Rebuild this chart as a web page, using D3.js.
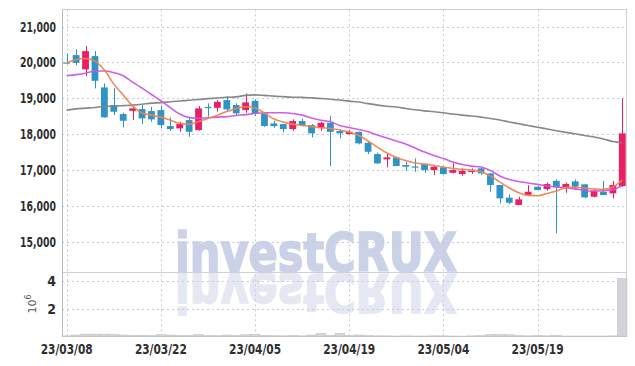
<!DOCTYPE html>
<html>
<head>
<meta charset="utf-8">
<script src="https://cdn.jsdelivr.net/npm/d3@7"></script>
<style>
  body { margin: 0; background: #fff; }
  svg { display: block; }
  .tick-label { font-family: 'DejaVu Sans Condensed', sans-serif; font-weight: bold; font-size: 14px; fill: #2f2f2f; }
</style>
</head>
<body>
<div id="wrapper"></div>
<script>
// trading days
const dates = ['2023-03-08','2023-03-09','2023-03-10','2023-03-13','2023-03-14','2023-03-15','2023-03-16','2023-03-17','2023-03-20','2023-03-21',
  '2023-03-22','2023-03-23','2023-03-24','2023-03-27','2023-03-28','2023-03-29','2023-03-30','2023-03-31','2023-04-03','2023-04-04',
  '2023-04-05','2023-04-06','2023-04-07','2023-04-10','2023-04-11','2023-04-12','2023-04-13','2023-04-14','2023-04-17','2023-04-18',
  '2023-04-19','2023-04-20','2023-04-21','2023-04-24','2023-04-25','2023-04-26','2023-04-27','2023-04-28','2023-05-02','2023-05-03',
  '2023-05-04','2023-05-08','2023-05-09','2023-05-10','2023-05-11','2023-05-12','2023-05-15','2023-05-16','2023-05-17','2023-05-18',
  '2023-05-19','2023-05-22','2023-05-23','2023-05-24','2023-05-25','2023-05-26','2023-05-30','2023-05-31','2023-06-01','2023-06-02']

const open = [20000,20203,19805,20175,19303,18810,18560,18650,18699,18643,18671,18225,18161,18392,18114,18760,18735,18950,18810,18671,
  18930,18579,18300,18281,18142,18365,18253,18178,18317,18086,18003,18066,17760,17445,17297,17353,17139,17100,17167,17000,
  17075,16924,16888,16950,17047,16907,16582,16229,16024,16303,16535,16470,16700,16507,16684,16600,16256,16395,16350,16554]
const high = [20250,20360,20454,20315,19415,19276,18596,18782,18810,18763,18782,18468,18345,18440,18782,18858,18950,19061,18858,19136,
  18970,18596,18373,18281,18412,18440,18281,18345,18504,18133,18114,18066,17780,17482,17464,17370,17231,17325,17180,17139,
  17090,17186,17047,17047,17075,16907,16582,16322,16256,16582,16554,16656,16740,16647,16740,16610,16480,16693,16700,19000]
const low = [19950,19920,19618,19276,18460,18532,18190,18392,18281,18345,18161,18095,18066,17927,18095,18485,18624,18624,18532,18596,
  18504,18206,18178,18050,18095,18225,17910,18095,17111,17883,17994,17715,17445,17167,17074,17111,16980,16952,16924,16860,
  16880,16907,16840,16888,16860,16395,16072,16052,16024,16303,16442,16423,15236,16367,16442,16210,16239,16303,16210,16535]
const close = [19980,19989,20315,19487,18468,18624,18373,18718,18440,18412,18253,18142,18281,18066,18718,18745,18902,18690,18579,18886,
  18579,18225,18225,18142,18365,18253,18022,18317,18066,18022,18066,17743,17509,17186,17353,17111,17092,17090,17000,17092,
  16888,17000,16980,16980,16907,16582,16211,16089,16183,16395,16442,16610,16517,16610,16535,16239,16423,16303,16582,18022]
// volume in millions
const volume = [0.06,0.12,0.18,0.18,0.18,0.15,0.12,0.10,0.10,0.08,0.14,0.12,0.08,0.08,0.14,0.08,0.07,0.12,0.08,0.14,
  0.16,0.10,0.07,0.06,0.08,0.06,0.12,0.22,0.10,0.22,0.08,0.12,0.08,0.06,0.06,0.05,0.06,0.05,0.05,0.06,
  0.06,0.05,0.04,0.06,0.08,0.15,0.16,0.14,0.08,0.06,0.08,0.06,0.10,0.05,0.05,0.05,0.05,0.05,0.06,4.15]

const ma5 = [19980,20080,20110,20035,19785,19395,19090,18780,18590,18530,18475,18390,18300,18280,18350,18440,18530,18630,18710,18765,
  18730,18590,18420,18335,18280,18245,18210,18180,18160,18115,18060,17960,17810,17640,17475,17350,17265,17195,17165,17125,
  17085,17045,17020,17000,16950,16830,16665,16500,16370,16295,16285,16345,16415,16510,16520,16500,16470,16460,16525,16720]
const ma20 = [19630,19660,19700,19760,19760,19715,19630,19450,19285,19105,18930,18740,18560,18460,18440,18455,18475,18490,18520,18545,
  18575,18595,18595,18595,18575,18530,18450,18390,18350,18240,18185,18130,18070,17975,17890,17810,17725,17615,17500,17405,
  17320,17225,17155,17110,17085,16985,16835,16735,16680,16640,16600,16555,16530,16510,16475,16430,16415,16425,16455,16570]
const ma60 = [18670,18705,18725,18745,18770,18780,18795,18810,18835,18865,18880,18905,18925,18945,18965,18990,19010,19025,19040,19080,
  19095,19080,19060,19045,19030,19025,19010,18995,18975,18950,18920,18895,18850,18810,18780,18755,18715,18680,18650,18625,
  18595,18560,18530,18505,18475,18435,18395,18340,18290,18240,18195,18145,18095,18050,18010,17965,17920,17865,17795,17760]

const priceTicks = [15000,16000,17000,18000,19000,20000,21000]
const volTicks = [2,4]
const dateTicks = ['2023-03-08','2023-03-22','2023-04-05','2023-04-19','2023-05-04','2023-05-19']

const width = 635
const height = 366
const left = 62, right = 627
const priceTop = 9.3, priceBottom = 272.3
const volTop = 272.3, volBottom = 336.7

const upColor = '#e91e63'
const downColor = '#2e93c5'
const gridColor = '#c5cadc'
const borderColor = '#cfcfd6'

const svg = d3.select('#wrapper').append('svg').attr('width', width).attr('height', height)

const xScale = d3.scaleBand().domain(dates).range([left, right])
const bw = xScale.bandwidth()
const cx = (d) => xScale(d) + bw / 2

const yScale = d3.scaleLinear().domain([14150, 21480]).range([priceBottom, priceTop])
const vScale = d3.scaleLinear().domain([0, 4.6]).range([volBottom, volTop])

// watermark with reflection
const wm = svg.append('g').attr('class', 'watermark')
const addMark = (color, flip) => {
  const t = wm.append('text')
    .attr('x', 316).attr('y', 271)
    .attr('text-anchor', 'middle')
    .attr('textLength', 282).attr('lengthAdjust', 'spacingAndGlyphs')
    .style('font-family', 'DejaVu Sans Condensed, sans-serif')
    .style('font-weight', 'bold').style('font-size', '53px')
    .style('fill', color).style('stroke', color).style('stroke-width', 1.6)
    .text('investCRUX')
  if (flip) t.attr('transform', `translate(0, ${2 * 272.5}) scale(1,-1)`)
}
addMark('#cbd2e8', false)
addMark('#e5e8f2', true)

// grid
const grid = svg.append('g').attr('class', 'grid')
grid.selectAll('.hp').data(priceTicks).enter().append('line')
  .attr('x1', left).attr('x2', right)
  .attr('y1', (d) => Math.round(yScale(d)) + 0.5).attr('y2', (d) => Math.round(yScale(d)) + 0.5)
  .attr('stroke', gridColor).attr('stroke-dasharray', '2,3')
grid.selectAll('.hv').data(volTicks).enter().append('line')
  .attr('x1', left).attr('x2', right)
  .attr('y1', (d) => Math.round(vScale(d)) + 0.5).attr('y2', (d) => Math.round(vScale(d)) + 0.5)
  .attr('stroke', gridColor).attr('stroke-dasharray', '2,3')
grid.selectAll('.vx').data(dateTicks).enter().append('line')
  .attr('x1', (d) => Math.round(cx(d)) + 0.5).attr('x2', (d) => Math.round(cx(d)) + 0.5)
  .attr('y1', priceTop).attr('y2', volBottom)
  .attr('stroke', gridColor).attr('stroke-dasharray', '2,3')

// borders
const frame = svg.append('g').attr('stroke', borderColor).attr('fill', 'none')
frame.append('line').attr('x1', left).attr('x2', right).attr('y1', 9.5).attr('y2', 9.5)
frame.append('line').attr('x1', left).attr('x2', right).attr('y1', 272.5).attr('y2', 272.5)
frame.append('line').attr('x1', left).attr('x2', right).attr('y1', 336.5).attr('y2', 336.5).attr('stroke', '#b8b8c0')
frame.append('line').attr('x1', 62.5).attr('x2', 62.5).attr('y1', priceTop).attr('y2', volBottom).attr('stroke', '#b8b8c0')
frame.append('line').attr('x1', 626.5).attr('x2', 626.5).attr('y1', priceTop).attr('y2', volBottom)

// volume bars
svg.append('g').selectAll('rect').data(dates).enter().append('rect')
  .attr('x', (d) => xScale(d))
  .attr('width', bw)
  .attr('y', (d, i) => vScale(volume[i]))
  .attr('height', (d, i) => volBottom - vScale(volume[i]))
  .attr('fill', '#d5d3d9').attr('stroke', '#c2c0c6').attr('stroke-width', 0.6)

// moving averages
const lineGen = (arr) => d3.line().x((d) => cx(d)).y((d, i) => yScale(arr[i])).curve(d3.curveMonotoneX)
const mas = [
  { values: ma60, color: '#828282', w: 1.6 },
  { values: ma20, color: '#cc55e6', w: 1.6 },
  { values: ma5, color: '#ee8450', w: 1.6 },
]

// candles
const candles = svg.append('g').selectAll('g').data(dates).enter().append('g')
const colorOf = (i) => (close[i] >= open[i] ? upColor : downColor)
candles.append('line')
  .attr('x1', (d) => Math.round(cx(d)) + 0.5).attr('x2', (d) => Math.round(cx(d)) + 0.5)
  .attr('y1', (d, i) => yScale(high[i])).attr('y2', (d, i) => yScale(low[i]))
  .attr('stroke', (d, i) => colorOf(i)).attr('stroke-width', 1)
candles.append('rect')
  .attr('x', (d) => cx(d) - bw * 0.36)
  .attr('width', bw * 0.72)
  .attr('y', (d, i) => yScale(Math.max(open[i], close[i])))
  .attr('height', (d, i) => Math.max(1.2, Math.abs(yScale(open[i]) - yScale(close[i]))))
  .attr('fill', (d, i) => colorOf(i))

mas.forEach((m) => {
  svg.append('path').datum(dates)
    .attr('d', lineGen(m.values))
    .attr('fill', 'none').attr('stroke', m.color).attr('stroke-width', m.w)
    .attr('stroke-opacity', 0.95)
})

// axis labels
svg.append('g').selectAll('text').data(priceTicks).enter().append('text')
  .attr('class', 'tick-label')
  .attr('x', 56).attr('y', (d) => yScale(d)).attr('dy', '0.36em')
  .attr('text-anchor', 'end')
  .attr('textLength', 36).attr('lengthAdjust', 'spacingAndGlyphs')
  .text((d) => d3.format(',')(d))
svg.append('g').selectAll('text').data(volTicks).enter().append('text')
  .attr('class', 'tick-label')
  .attr('x', 56).attr('y', (d) => vScale(d)).attr('dy', '0.36em')
  .attr('text-anchor', 'end')
  .text((d) => d)
svg.append('g').selectAll('text').data(dateTicks).enter().append('text')
  .attr('class', 'tick-label')
  .attr('x', (d) => cx(d)).attr('y', 354)
  .attr('text-anchor', 'middle')
  .attr('textLength', 52).attr('lengthAdjust', 'spacingAndGlyphs')
  .text((d) => d.slice(2).replace(/-/g, '/'))

// volume unit
const unit = svg.append('text')
  .attr('transform', 'translate(36, 304) rotate(-90)')
  .attr('text-anchor', 'middle')
  .style('font-family', 'DejaVu Sans, sans-serif').style('font-size', '11px').style('fill', '#555')
unit.append('tspan').text('10')
unit.append('tspan').attr('dy', '-5').style('font-size', '8px').text('6')
</script>
</body>
</html>
